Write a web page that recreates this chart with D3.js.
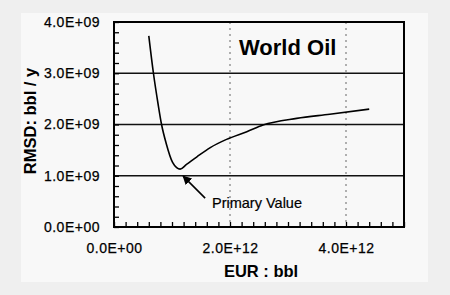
<!DOCTYPE html>
<html><head><meta charset="utf-8">
<script src="https://cdn.jsdelivr.net/npm/d3@7/dist/d3.min.js"></script>
<style>body{margin:0;background:#efefef;}svg{display:block;}</style>
</head><body>
<script>
// EUR (x, bbl) and RMSD (y, bbl/y)
const eur  = [0.60e12,0.68e12,0.76e12,0.82e12,0.90e12,1.01e12,1.08e12,1.14e12,1.25e12,1.43e12,1.66e12,1.94e12,2.29e12,2.57e12,3.15e12,3.72e12,4.40e12];
const rmsd = [3.73e9,3.00e9,2.40e9,2.00e9,1.63e9,1.26e9,1.16e9,1.13e9,1.22e9,1.37e9,1.55e9,1.71e9,1.86e9,1.99e9,2.12e9,2.20e9,2.30e9];
const yTicks = [0,1e9,2e9,3e9,4e9];
const yTickLabels = ["0.0E+00","1.0E+09","2.0E+09","3.0E+09","4.0E+09"];
const xTicks = [0,2e12,4e12];
const xTickLabels = ["0.0E+00","2.0E+12","4.0E+12"];
const title = "World Oil";
const xTitle = "EUR : bbl";
const yTitle = "RMSD: bbl / y";
const annotation = "Primary Value";
const annotationPoint = [1.14e12, 1.13e9];

const W=450,H=295;
const m={l:114,r:46,t:22,b:68};
const FONT="Liberation Sans, Arial, sans-serif";
const svg=d3.select("body").append("svg").attr("width",W).attr("height",H);
svg.append("rect").attr("x",21).attr("y",13).attr("width",407).attr("height",269).attr("fill","#f8f8f8");

const x=d3.scaleLinear().domain([0,5e12]).range([m.l,W-m.r]);
const y=d3.scaleLinear().domain([0,4e9]).range([H-m.b,m.t]);

// vertical dashed grid
svg.append("g").selectAll("line").data(xTicks.filter(d=>d>0)).join("line")
  .attr("x1",d=>x(d)).attr("x2",d=>x(d)).attr("y1",y(4e9)).attr("y2",y(0))
  .attr("stroke","#666").attr("stroke-width",1).attr("stroke-dasharray","2,4");
// horizontal grid
svg.append("g").selectAll("line").data(yTicks.filter(d=>d>0&&d<4e9)).join("line")
  .attr("x1",x(0)).attr("x2",x(5e12)).attr("y1",d=>y(d)).attr("y2",d=>y(d))
  .attr("stroke","#111").attr("stroke-width",1.5);

// minor ticks (inside)
const yMinor=d3.range(0,4e9+1,0.2e9), xMinor=d3.range(0,5e12+1,0.2e12);
svg.append("g").attr("transform",`translate(${x(0)},0)`)
  .call(d3.axisLeft(y).tickValues(yMinor).tickSize(-5).tickFormat(""))
  .call(g=>{g.select(".domain").remove();g.selectAll("line").attr("stroke","#000").attr("stroke-width",1.3);});
svg.append("g").attr("transform",`translate(0,${y(0)})`)
  .call(d3.axisBottom(x).tickValues(xMinor).tickSize(-5).tickFormat(""))
  .call(g=>{g.select(".domain").remove();g.selectAll("line").attr("stroke","#000").attr("stroke-width",1.3);});

function styleLabels(g){
  g.select(".domain").remove();
  g.selectAll("text").attr("font-family",FONT).attr("font-size","14px").attr("letter-spacing","0.5px")
    .attr("fill","#000").attr("stroke","#000").attr("stroke-width",0.25);
}
// tick labels
svg.append("g").attr("transform",`translate(${x(0)},0)`)
  .call(d3.axisLeft(y).tickValues(yTicks).tickSize(0).tickPadding(14).tickFormat((d,i)=>yTickLabels[i]))
  .call(styleLabels);
svg.append("g").attr("transform",`translate(0,${y(0)})`)
  .call(d3.axisBottom(x).tickValues(xTicks).tickSize(0).tickPadding(16).tickFormat((d,i)=>xTickLabels[i]))
  .call(styleLabels);

// frame
svg.append("rect").attr("x",x(0)).attr("y",y(4e9)).attr("width",x(5e12)-x(0)).attr("height",y(0)-y(4e9))
  .attr("fill","none").attr("stroke","#000").attr("stroke-width",2);

// curve
const line=d3.line().x((d,i)=>x(eur[i])).y((d,i)=>y(rmsd[i])).curve(d3.curveMonotoneX);
svg.append("path").datum(eur).attr("d",line).attr("fill","none").attr("stroke","#000").attr("stroke-width",1.6);

// annotation arrow
const tip=[x(annotationPoint[0])+3,y(annotationPoint[1])+7];
const tail=[tip[0]+22,tip[1]+22];
svg.append("defs").append("marker").attr("id","ah").attr("viewBox","0 0 10 10").attr("refX",9).attr("refY",5)
  .attr("markerWidth",9).attr("markerHeight",9).attr("markerUnits","userSpaceOnUse").attr("orient","auto")
  .append("path").attr("d","M0,0 L10,5 L0,10 z").attr("fill","#000");
svg.append("line").attr("x1",tail[0]).attr("y1",tail[1]).attr("x2",tip[0]).attr("y2",tip[1])
  .attr("stroke","#000").attr("stroke-width",1.6).attr("marker-end","url(#ah)");
svg.append("text").attr("x",212).attr("y",208).text(annotation)
  .attr("font-family",FONT).attr("font-size","14.5px").attr("fill","#000").attr("stroke","#000").attr("stroke-width",0.2);

// title
svg.append("text").attr("x",239).attr("y",55).text(title)
  .attr("font-family",FONT).attr("font-weight","bold").attr("font-size","22px").attr("fill","#000");
// axis titles
svg.append("text").attr("x",261).attr("y",277).attr("text-anchor","middle").text(xTitle)
  .attr("font-family",FONT).attr("font-weight","bold").attr("font-size","16.5px").attr("fill","#000");
svg.append("text").attr("transform","translate(36,121) rotate(-90)").attr("text-anchor","middle").text(yTitle)
  .attr("font-family",FONT).attr("font-weight","bold").attr("font-size","16.5px").attr("fill","#000");
</script>
</body></html>
